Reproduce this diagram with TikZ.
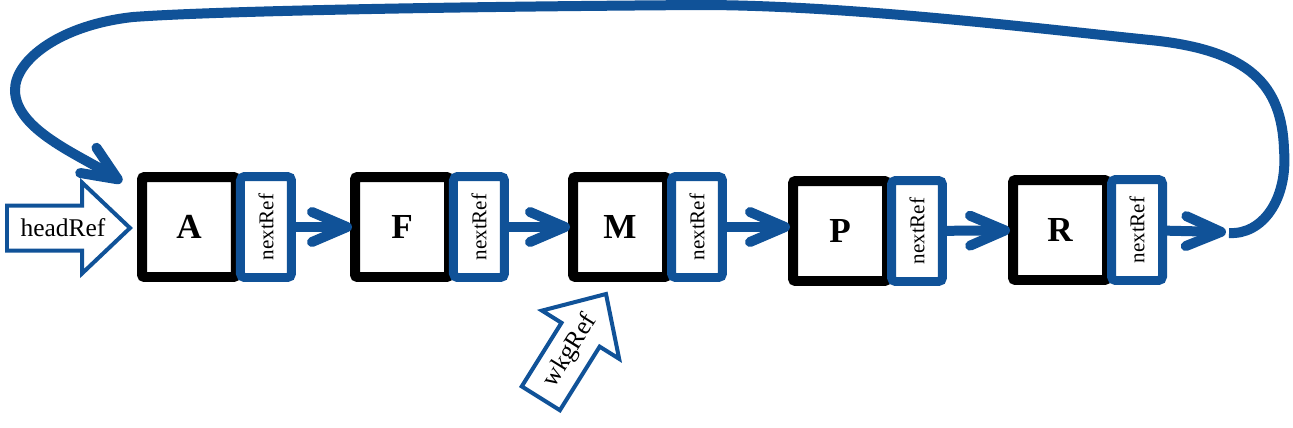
\documentclass[tikz,border=0pt]{standalone}
\usepackage{graphicx}
\usepackage{fontspec}
\setmainfont{Liberation Serif}
\usetikzlibrary{positioning}
\usetikzlibrary{arrows.meta}
\definecolor{refblue}{RGB}{16,82,152}
\tikzset{>={Straight Barb[length=0.7cm,width=0.6cm,round]}}
\tikzset{
  databox/.style={draw=black, line width=0.2cm, fill=white, rounded corners=0.5mm,
    minimum width=1.88cm, minimum height=2cm, inner sep=0pt, outer sep=0pt,
    font=\fontsize{20}{24}\selectfont\bfseries},
  refbox/.style={draw=refblue, line width=0.18cm, fill=white, rounded corners=0.8mm,
    minimum width=1.02cm, minimum height=2.02cm, inner sep=0pt, outer sep=0pt,
    font=\fontsize{12}{14}\selectfont, right=0.09cm of #1},
  link/.style={draw=refblue, line width=0.2cm, ->, shorten >=0.06cm},
  pointer/.style={draw=refblue, line width=0.08cm, fill=white, line join=miter},
  pointertext/.style={font=\fontsize{14.5}{17}\selectfont, inner sep=0pt}
}
% block arrow with its tip at (0,0), pointing along x
\newcommand{\pointershape}{(0,0) -- (-48,-45.5) -- (-48,-22.5) -- (-123,-22.5)
  -- (-123,22.5) -- (-48,22.5) -- (-48,45.5) -- cycle}

\begin{document}
\begin{tikzpicture}[x=0.02cm, y=-0.02cm]
\useasboundingbox (0,0) rectangle (1293,427);

\node (A) [databox] at (189,227) {A};
\node (Anext) [refbox=A] {\rotatebox{90}{nextRef}};
\node (F) [databox] at (402,227) {F};
\node (Fnext) [refbox=F] {\rotatebox{90}{nextRef}};
\node (M) [databox] at (620,227) {M};
\node (Mnext) [refbox=M] {\rotatebox{90}{nextRef}};
\node (P) [databox] at (840,231) {P};
\node (Pnext) [refbox=P] {\rotatebox{90}{nextRef}};
\node (R) [databox] at (1060,230) {R};
\node (Rnext) [refbox=R] {\rotatebox{90}{nextRef}};
\coordinate (Rend) at (1226,232);
\coordinate (Rloop) at (1229,233);
\coordinate (Ain) at (122,182);

% outside references
\begin{scope}[shift={(130,228)}]
  \path [pointer] \pointershape;
  \node (headRef) [pointertext] at (-67,0) {headRef};
\end{scope}
\begin{scope}[shift={(606,294)}, rotate=58]
  \path [pointer] \pointershape;
  \node (wkgRef) [pointertext, transform shape] at (-67,0) {wkgRef};
\end{scope}

\path [link] (Anext) -- (F);
\path [link] (Fnext) -- (M);
\path [link] (Mnext.east) -- (Mnext.east -| P.west);
\path [link] (Pnext) -- (R);
\path [link, shorten >=0pt] (Rnext) -- (Rend);
% back to the front of the list
\path [draw=refblue, line width=0.2cm, ->] (Rloop)
  .. controls (1262,235) and (1288,200) .. (1284,150)
  .. controls (1282,85) and (1250,50) .. (1150,40)
  .. controls (1050,30) and (850,5) .. (700,5)
  .. controls (400,7) and (200,12) .. (133,17)
  .. controls (60,25) and (15,60) .. (15,90)
  .. controls (15,130) and (80,155) .. (Ain);
\end{tikzpicture}
\end{document}
